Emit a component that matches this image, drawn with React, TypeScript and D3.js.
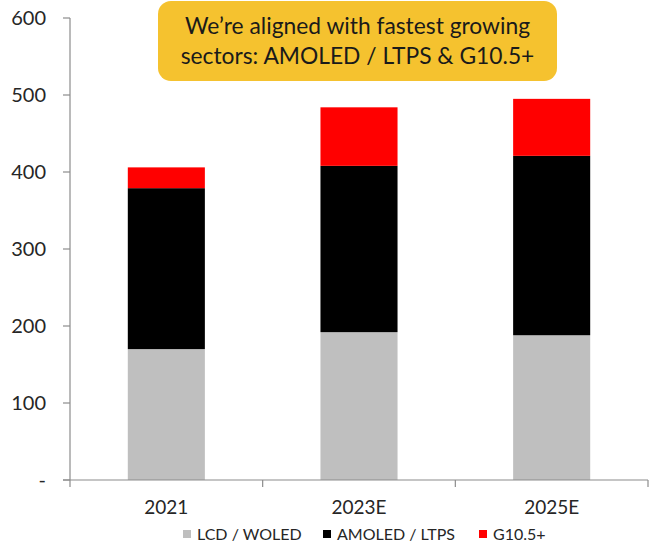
import React from "react";
import * as d3 from "d3";

const years = ["2021", "2023E", "2025E"];
const lcdWoled = [170, 192, 188];
const amoledLtps = [209, 216, 233];
const g105 = [27, 76, 74];
const yTicks = [0, 100, 200, 300, 400, 500, 600];
const seriesNames = ["LCD / WOLED", "AMOLED / LTPS", "G10.5+"];
const seriesColors = ["#bfbfbf", "#000000", "#ff0000"];
const titleLines = ["We\u2019re aligned with fastest growing", "sectors: AMOLED / LTPS & G10.5+"];

const W = 656;
const H = 552;
const FONT = "Lato, 'Open Sans', sans-serif";

export default function App() {
  const x = d3.scaleBand<string>().domain(years).range([70, 648]).paddingInner(0.6).paddingOuter(0.3);
  const y = d3.scaleLinear().domain([0, 600]).range([480, 18]);

  const rows = years.map((yr, i) => ({ year: yr, lcd: lcdWoled[i], amoled: amoledLtps[i], g: g105[i] }));
  const stack = d3.stack<any>().keys(["lcd", "amoled", "g"])(rows);

  const boundaries = d3.range(years.length + 1).map((i) => 70 + (i * (648 - 70)) / years.length);

  const legendX = [183, 323, 479];

  return (
    <svg width={W} height={H} style={{ position: "absolute", left: 0, top: 0, background: "#fff" }}>
      {/* bars */}
      {stack.map((layer, si) =>
        layer.map((d, i) => (
          <rect
            key={`${si}-${i}`}
            x={x(years[i])}
            y={y(d[1])}
            width={x.bandwidth()}
            height={y(d[0]) - y(d[1])}
            fill={seriesColors[si]}
          />
        ))
      )}

      {/* y axis */}
      <line x1={70} x2={70} y1={18} y2={480} stroke="#8c8c8c" strokeWidth={1.2} />
      {yTicks.map((t) => (
        <g key={t}>
          <line x1={63} x2={70} y1={y(t)} y2={y(t)} stroke="#8c8c8c" strokeWidth={1.2} />
          <text
            x={46}
            y={y(t)}
            dy="0.35em"
            textAnchor="end"
            fontFamily={FONT}
            fontSize={20}
            fill="#262626"
          >
            {t === 0 ? "-" : t}
          </text>
        </g>
      ))}

      {/* x axis */}
      <line x1={63} x2={648} y1={480} y2={480} stroke="#8c8c8c" strokeWidth={1.2} />
      {boundaries.map((b, i) => (
        <line key={i} x1={b} x2={b} y1={480} y2={487} stroke="#8c8c8c" strokeWidth={1.2} />
      ))}
      {years.map((yr) => (
        <text
          key={yr}
          x={(x(yr) as number) + x.bandwidth() / 2}
          y={514}
          textAnchor="middle"
          fontFamily={FONT}
          fontSize={19}
          fill="#262626"
        >
          {yr}
        </text>
      ))}

      {/* legend */}
      {seriesNames.map((name, i) => (
        <g key={name}>
          <rect x={legendX[i]} y={530} width={8} height={8} fill={seriesColors[i]} />
          <text x={legendX[i] + 14} y={540} fontFamily={FONT} fontSize={16} fill="#262626">
            {name}
          </text>
        </g>
      ))}

      {/* headline box */}
      <rect x={158} y={1} width={399} height={80} rx={13} ry={13} fill="#f5c22f" />
      {titleLines.map((line, i) => (
        <text
          key={i}
          x={357.5}
          y={34 + i * 30}
          textAnchor="middle"
          fontFamily={FONT}
          fontSize={22.8}
          fill="#1a1a1a"
        >
          {line}
        </text>
      ))}
    </svg>
  );
}
